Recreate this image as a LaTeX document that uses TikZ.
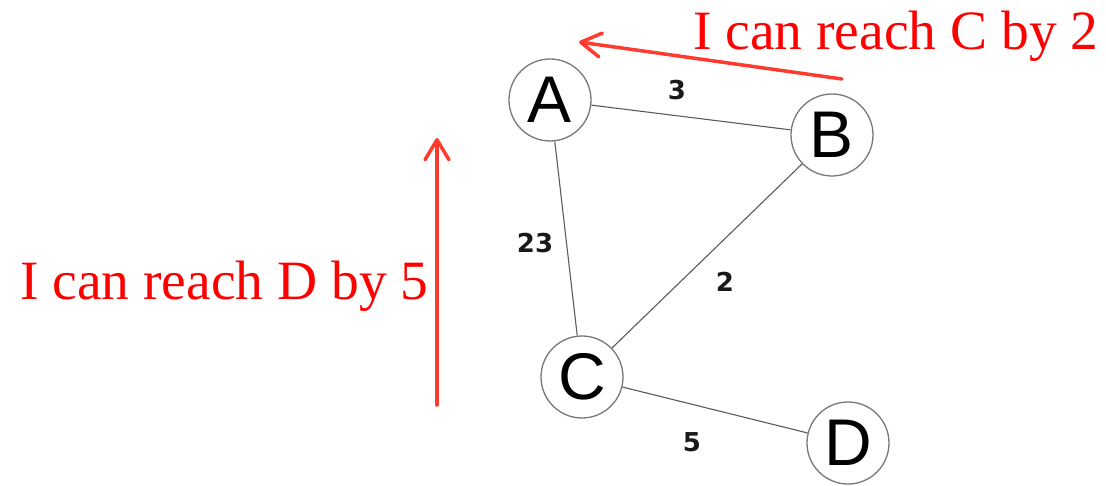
\documentclass[tikz,border=0pt]{standalone}
\usepackage{fontspec}
\setmainfont{Liberation Serif}
\newfontfamily\nodefont{Liberation Sans}
\newfontfamily\weightfont{DejaVu Sans}
\usetikzlibrary{arrows.meta}
\definecolor{reachred}{RGB}{255,59,48}
\definecolor{ringgray}{RGB}{120,120,120}
\definecolor{edgegray}{RGB}{90,90,90}
\tikzset{
  router/.style={circle,draw=ringgray,line width=1.3pt,minimum size=82pt,inner sep=0pt,
    font=\nodefont\fontsize{66}{66}\selectfont},
  link/.style={draw=edgegray,line width=1.1pt},
  weight/.style={font=\weightfont\bfseries\fontsize{26}{26}\selectfont,text=black!90},
  msg/.style={text=red,font=\fontsize{55.5}{60}\selectfont,inner sep=0pt,anchor=base west},
  reach/.style={draw=reachred,line width=3.5pt,line cap=round,
    -{Straight Barb[length=20pt,width=24pt,line cap=round,line join=round]}}
}
\begin{document}
\begin{tikzpicture}[x=1pt,y=1pt]
\useasboundingbox (0,0) rectangle (1106,485);
% routers
\node[router] (A) at (550,385) {A};
\node[router] (B) at (832,350) {B};
\node[router] (C) at (582,108) {C};
\node[router] (D) at (848,42) {D};
% links
\draw[link] (A) -- (B);
\draw[link] (A) -- (C);
\draw[link] (B) -- (C);
\draw[link] (C) -- (D);
% costs
\node[weight] (wAB) at (677,395) {3};
\node[weight] (wAC) at (535,242) {23};
\node[weight] (wBC) at (725,203) {2};
\node[weight] (wCD) at (692,43) {5};
% messages
\node[msg] (fromB) at (693,435) {I can reach C by 2};
\node[msg] (fromC) at (20,185) {I can reach D by 5};
\coordinate (tailB) at (842,406);
\coordinate (tipB) at (579,443);
\coordinate (tailC) at (437,80);
\coordinate (tipC) at (437,347);
\draw[reach] (tailB) -- (tipB);
\draw[reach] (tailC) -- (tipC);
\end{tikzpicture}
\end{document}
